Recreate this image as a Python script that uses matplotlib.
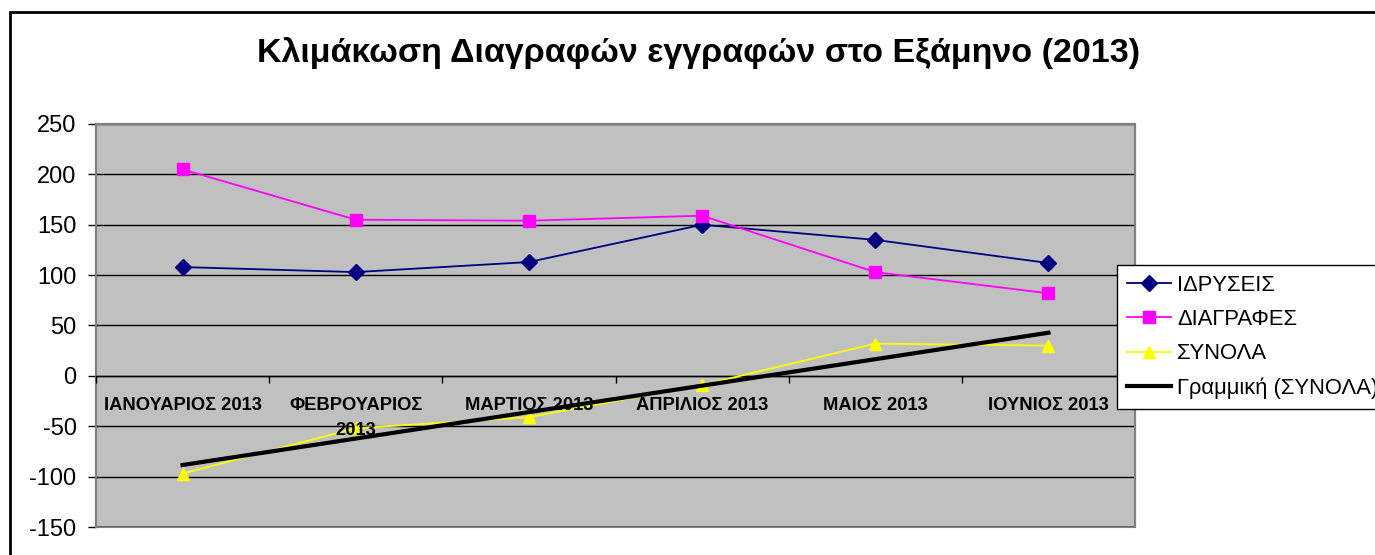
import textwrap
import numpy as np
import matplotlib
matplotlib.use("Agg")
import matplotlib.pyplot as plt
from matplotlib.patches import Rectangle

plt.rcParams['font.family'] = ['Liberation Sans', 'DejaVu Sans']
plt.rcParams['axes.unicode_minus'] = False

categories = ["ΙΑΝΟΥΑΡΙΟΣ 2013", "ΦΕΒΡΟΥΑΡΙΟΣ 2013", "ΜΑΡΤΙΟΣ 2013",
              "ΑΠΡΙΛΙΟΣ 2013", "ΜΑΙΟΣ 2013", "ΙΟΥΝΙΟΣ 2013"]
idryseis = [108, 103, 113, 150, 135, 112]
diagrafes = [205, 155, 154, 159, 103, 82]
synola = [-97, -52, -41, -9, 32, 30]
yticks = [-150, -100, -50, 0, 50, 100, 150, 200, 250]
title = "Κλιμάκωση Διαγραφών εγγραφών στο Εξάμηνο (2013)"
labels = ["ΙΔΡΥΣΕΙΣ", "ΔΙΑΓΡΑΦΕΣ", "ΣΥΝΟΛΑ", "Γραμμική (ΣΥΝΟΛΑ)"]

W, H = 1375, 555
fig = plt.figure(figsize=(W / 100, H / 100), dpi=100)
fig.patch.set_facecolor('white')

# outer chart border
fig.add_artist(Rectangle((10 / W, -0.1), 1.2, 1 - 12 / H + 0.1, transform=fig.transFigure,
                         fill=False, edgecolor='black', linewidth=2, clip_on=False))

left, right, top, bottom = 96, 1135, 124, 527
ax = fig.add_axes([left / W, 1 - bottom / H, (right - left) / W, (bottom - top) / H])
ax.set_facecolor('#C0C0C0')
ax.set_axisbelow(True)

x = np.arange(len(categories))
ax.set_xlim(-0.5, len(categories) - 0.5)
ax.set_ylim(yticks[0], yticks[-1])
ax.set_yticks(yticks)
ax.tick_params(axis='y', labelsize=17, length=6, width=1, color='black', pad=8)
ax.yaxis.grid(True, color='black', linewidth=1)

for s in ['top', 'right', 'left']:
    ax.spines[s].set_color('#808080')
    ax.spines[s].set_linewidth(1.5)
ax.spines['bottom'].set_position(('data', 0))
ax.spines['bottom'].set_color('black')
ax.spines['bottom'].set_linewidth(1)
ax.add_patch(Rectangle((0, 0), 1, 1, transform=ax.transAxes, fill=False,
                       edgecolor='#808080', linewidth=1.5, clip_on=False, zorder=0.4))

ax.set_xticks(np.arange(len(categories) + 1) - 0.5)
ax.set_xticklabels([])
ax.tick_params(axis='x', which='major', length=5, width=1, direction='out', color='black')
ax.set_xticks(x, minor=True)
ax.set_xticklabels([textwrap.fill(c, 15) for c in categories], minor=True,
                   fontsize=13.2, fontweight='bold', linespacing=1.6)
ax.tick_params(axis='x', which='minor', length=0, pad=15)
ax.xaxis.set_zorder(3.5)

ax.plot(x, idryseis, color='#000080', marker='D', markersize=8, linewidth=1.3,
        label=labels[0], zorder=3)
ax.plot(x, diagrafes, color='#FF00FF', marker='s', markersize=8, linewidth=1.3,
        label=labels[1], zorder=3)
ax.plot(x, synola, color='#FFFF00', marker='^', markersize=9, linewidth=1.3,
        label=labels[2], zorder=3)
coef = np.polyfit(x, synola, 1)
ax.plot(x, np.polyval(coef, x), color='black', linewidth=3, label=labels[3], zorder=4)

fig.text(699 / W, 1 - 53 / H, title, ha='center', va='center', fontsize=24.5, fontweight='bold')

leg = fig.legend(loc='upper left', bbox_to_anchor=(1117 / W, 1 - 265 / H),
                 bbox_transform=fig.transFigure, fontsize=15.8, frameon=True, fancybox=False,
                 edgecolor='black', framealpha=1, handlelength=2.0, handletextpad=0.3,
                 labelspacing=0.6, borderpad=0.45, borderaxespad=0)
leg.get_frame().set_linewidth(1)

fig.savefig('out.png', dpi=100)
